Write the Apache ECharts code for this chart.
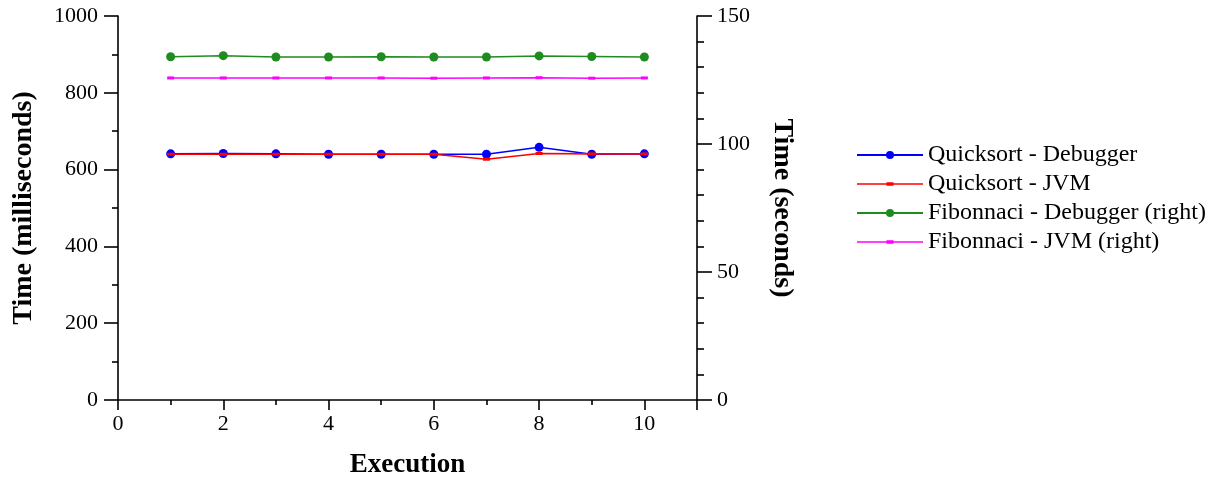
<!DOCTYPE html>
<html>
<head>
<meta charset="utf-8">
<script src="https://cdn.jsdelivr.net/npm/echarts@6/dist/echarts.min.js"></script>
<style>html,body{margin:0;padding:0;background:#fff;}#c{width:1213px;height:481px;}</style>
</head>
<body>
<div id="c"></div>
<script>
const executions = [1, 2, 3, 4, 5, 6, 7, 8, 9, 10];
const seriesNames = ['Quicksort - Debugger', 'Quicksort - JVM', 'Fibonnaci - Debugger (right)', 'Fibonnaci - JVM (right)'];
const quicksortDebugger = [641, 642, 641, 640, 640, 640, 640, 658, 640, 641];
const quicksortJVM = [640, 640, 640, 640, 640, 640, 627, 642, 641, 641];
const fibonacciDebugger = [134.1, 134.5, 134.0, 134.0, 134.1, 134.0, 134.0, 134.4, 134.2, 134.0];
const fibonacciJVM = [125.8, 125.8, 125.8, 125.8, 125.8, 125.7, 125.8, 125.9, 125.7, 125.8];
const xAxisTitle = 'Execution';
const leftAxisTitle = 'Time (milliseconds)';
const rightAxisTitle = 'Time (seconds)';

const FONT = '"Liberation Serif", "Times New Roman", serif';
const pair = (ys) => executions.map((x, i) => [x, ys[i]]);
const axisLineStyle = { color: '#000', width: 1.6 };
// legend icon for the JVM series: a line with a small dash marker in the middle
const dashLineIcon = 'path://M0,0L0,0Z M0,10L0,10Z M0,4.2H66V5.8H0Z M29.5,3.3H36.5V6.7H29.5Z';

const chart = echarts.init(document.getElementById('c'), null, { renderer: 'canvas' });
chart.setOption({
  animation: false,
  backgroundColor: '#fff',
  grid: { left: 118, top: 16, width: 579, height: 384, containLabel: false, outerBoundsMode: 'none' },
  legend: {
    orient: 'vertical',
    left: 851,
    top: 138,
    itemWidth: 66,
    itemHeight: 10,
    itemGap: 5,
    textStyle: { fontFamily: FONT, fontSize: 24, color: '#000', lineHeight: 24 },
    data: [
      { name: seriesNames[0] },
      { name: seriesNames[1], icon: dashLineIcon },
      { name: seriesNames[2] },
      { name: seriesNames[3], icon: dashLineIcon }
    ]
  },
  xAxis: {
    type: 'value', min: 0, max: 11, interval: 2,
    name: xAxisTitle, nameLocation: 'middle', nameGap: 52,
    nameTextStyle: { fontFamily: FONT, fontSize: 27, fontWeight: 'bold', color: '#000' },
    axisLine: { show: true, onZero: false, lineStyle: axisLineStyle },
    axisTick: { show: true, inside: false, length: 10, lineStyle: axisLineStyle },
    minorTick: { show: true, splitNumber: 2, length: 5, lineStyle: axisLineStyle },
    splitLine: { show: false },
    axisLabel: { fontFamily: FONT, fontSize: 22, color: '#000', margin: 13,
      formatter: v => (v === 11 ? '' : String(v)) }
  },
  yAxis: [
    {
      type: 'value', position: 'left', min: 0, max: 1000, interval: 200,
      name: leftAxisTitle, nameLocation: 'middle', nameGap: 80,
      nameTextStyle: { fontFamily: FONT, fontSize: 28, fontWeight: 'bold', color: '#000' },
      axisLine: { show: true, lineStyle: axisLineStyle },
      axisTick: { show: true, length: 14, lineStyle: axisLineStyle },
      minorTick: { show: true, splitNumber: 2, length: 6, lineStyle: axisLineStyle },
      splitLine: { show: false },
      axisLabel: { fontFamily: FONT, fontSize: 22, color: '#000', margin: 20,
        formatter: v => String(v) }
    },
    {
      type: 'value', position: 'right', min: 0, max: 150, interval: 50,
      name: rightAxisTitle, nameLocation: 'middle', nameGap: 71, nameRotate: -90,
      nameTextStyle: { fontFamily: FONT, fontSize: 28, fontWeight: 'bold', color: '#000' },
      axisLine: { show: true, lineStyle: axisLineStyle },
      axisTick: { show: true, length: 15, lineStyle: axisLineStyle },
      minorTick: { show: true, splitNumber: 5, length: 7, lineStyle: axisLineStyle },
      splitLine: { show: false },
      axisLabel: { fontFamily: FONT, fontSize: 22, color: '#000', margin: 20,
        formatter: v => String(v) }
    }
  ],
  series: [
    { name: seriesNames[0], type: 'line', yAxisIndex: 0, data: pair(quicksortDebugger),
      symbol: 'circle', symbolSize: 9, showSymbol: true,
      lineStyle: { color: '#0000ff', width: 1.6 }, itemStyle: { color: '#0000ff' }, z: 2 },
    { name: seriesNames[1], type: 'line', yAxisIndex: 0, data: pair(quicksortJVM),
      symbol: 'rect', symbolSize: [7, 3],
      lineStyle: { color: '#ff0000', width: 1.6 }, itemStyle: { color: '#ff0000' }, z: 3 },
    { name: seriesNames[2], type: 'line', yAxisIndex: 1, data: pair(fibonacciDebugger),
      symbol: 'circle', symbolSize: 9,
      lineStyle: { color: '#1f8c1f', width: 1.6 }, itemStyle: { color: '#1f8c1f' } },
    { name: seriesNames[3], type: 'line', yAxisIndex: 1, data: pair(fibonacciJVM),
      symbol: 'rect', symbolSize: [7, 3],
      lineStyle: { color: '#ff00ff', width: 1.6 }, itemStyle: { color: '#ff00ff' } }
  ]
});
</script>
</body>
</html>
